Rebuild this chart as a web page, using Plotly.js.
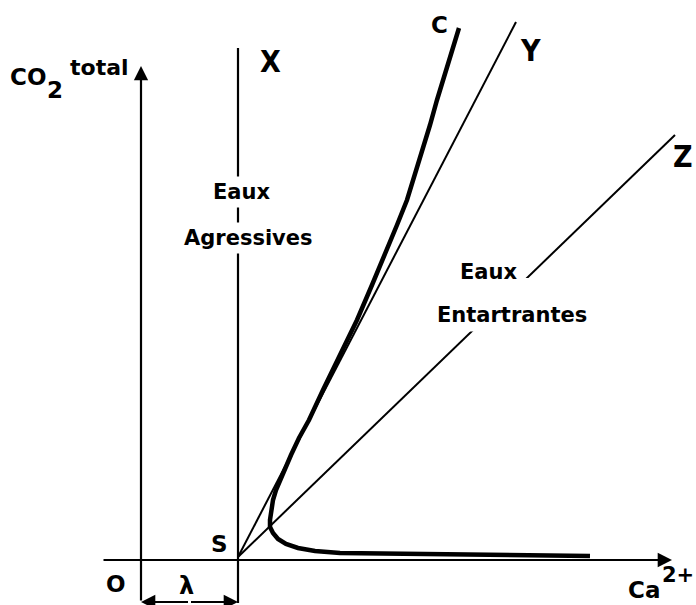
<!DOCTYPE html>
<html>
<head>
<meta charset="utf-8">
<script src="https://cdn.plot.ly/plotly-3.0.1.min.js"></script>
<style>html,body{margin:0;padding:0;background:#fff;}#chart{width:696px;height:605px;}</style>
</head>
<body>
<div id="chart"></div>
<script>
// Coordinates, origin O = (0,0), units ~ pixels of the original
var lambda = 97;                       // distance O–S along the Ca2+ axis
var pointS = [97, 3];                  // point S
var lineY_end = [375, 538];            // end of line S–Y
var lineZ_end = [534, 425];            // end of line S–Z
var axisX = [-39, 531];                // Ca2+ axis extent
var axisY = [-42, 494];                // CO2 total axis extent
var lineX_y = [-43, 512];              // vertical line S–X extent
// Curve C (calco-carbonic equilibrium curve)
var curveC_x = [449, 339, 259, 199, 174, 157, 145, 137, 132, 129, 129, 130, 132, 135, 139, 144, 150, 158, 168, 182, 197, 216, 231, 246, 256, 266, 274, 281, 289, 296, 307, 318];
var curveC_y = [4, 5, 6, 7, 9, 12, 16, 21, 27, 33, 40, 50, 60, 70, 80, 92, 105, 122, 140, 170, 200, 240, 275, 310, 335, 360, 385, 410, 435, 460, 495, 532];

var F = "DejaVu Sans";
var FN = "Liberation Sans Narrow, DejaVu Sans Condensed, DejaVu Sans";

var traces = [
  {x: [lambda, lambda], y: lineX_y, mode: 'lines', line: {color: '#000', width: 2.2}},
  {x: [pointS[0], lineY_end[0]], y: [pointS[1], lineY_end[1]], mode: 'lines', line: {color: '#000', width: 2}},
  {x: [pointS[0], lineZ_end[0]], y: [pointS[1], lineZ_end[1]], mode: 'lines', line: {color: '#000', width: 2}},
  {x: curveC_x, y: curveC_y, mode: 'lines', line: {color: '#000', width: 4.5, shape: 'linear'}}
];

function txt(t, x, y, size, fam, extra) {
  var a = {text: t, x: x, y: y, xref: 'x', yref: 'y', showarrow: false,
    font: {family: fam || F, size: size, color: '#000', weight: 'bold'},
    xanchor: 'center', yanchor: 'middle', borderpad: 0};
  if (extra) for (var k in extra) a[k] = extra[k];
  return a;
}
function arrow(x, y, ax, ay) {
  return {x: x, y: y, ax: ax, ay: ay, xref: 'x', yref: 'y', axref: 'x', ayref: 'y',
    text: '', showarrow: true, arrowhead: 2, arrowsize: 1.3, arrowwidth: 2.2, arrowcolor: '#000', standoff: 0, startstandoff: 0};
}

var ann = [
  arrow(0, axisY[1], 0, axisY[0]),
  arrow(axisX[1], 0, axisX[0], 0),
  arrow(0, -42, lambda / 2, -42),
  arrow(lambda, -42, lambda / 2, -42),
  txt('CO', -113.5, 483.5, 23),
  txt('2', -86, 470, 23),
  txt('total', -42, 493, 22),
  txt('X', 129, 499, 30, FN),
  txt('C', 298, 535, 23),
  txt('Y', 389, 510, 30, FN),
  txt('Z', 542, 404, 30, FN),
  txt('Eaux', 100, 368, 21, F, {bgcolor: '#fff', borderpad: 3}),
  txt('Agressives', 107, 322, 21, F, {bgcolor: '#fff', borderpad: 3}),
  txt('Eaux', 347, 288, 21, F, {bgcolor: '#fff', borderpad: 5}),
  txt('Entartrantes', 371, 245, 21, F, {bgcolor: '#fff', borderpad: 4}),
  txt('S', 78, 16, 23),
  txt('O', -25, -24, 23),
  txt('λ', 45, -26, 24),
  txt('Ca', 502.5, -30, 23),
  txt('2+', 536.5, -14.5, 21)
];

var layout = {
  width: 696, height: 605, autosize: false,
  margin: {l: 0, r: 0, t: 0, b: 0, pad: 0},
  paper_bgcolor: '#fff', plot_bgcolor: '#fff',
  showlegend: false,
  xaxis: {range: [-141, 555], visible: false, fixedrange: true},
  yaxis: {range: [-45, 560], visible: false, fixedrange: true},
  annotations: ann,
  shapes: [
    {type: 'rect', xref: 'x', yref: 'y', x0: 350, x1: 390, y0: 250, y1: 282, fillcolor: '#fff', line: {width: 0}, layer: 'above'}
  ]
};

Plotly.newPlot('chart', traces, layout, {staticPlot: true, displayModeBar: false});
</script>
</body>
</html>
